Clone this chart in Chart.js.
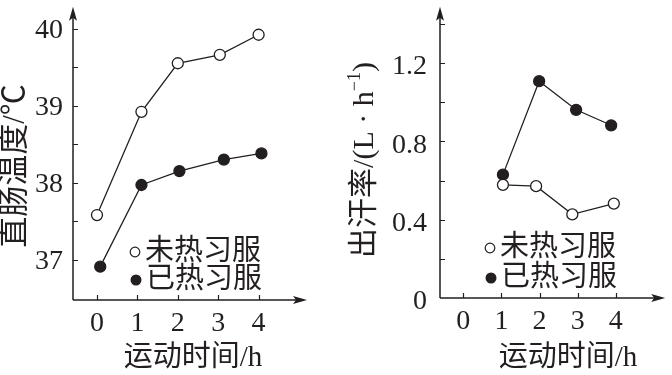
<!DOCTYPE html>
<html lang="zh">
<head>
<meta charset="utf-8">
<title>热习服 - 直肠温度与出汗率</title>
<script src="https://cdn.jsdelivr.net/npm/chart.js@4.4.1/dist/chart.umd.min.js"></script>
<style>
  html, body { margin: 0; padding: 0; background: #fff; }
  #wrap { position: relative; width: 672px; height: 375px; }
  .panel { position: absolute; top: 0; width: 336px; height: 375px; }
  #leftPanel { left: 0; }
  #rightPanel { left: 336px; }
</style>
</head>
<body>
<div id="wrap">
  <div class="panel" id="leftPanel"><canvas id="tempChart" width="336" height="375"></canvas></div>
  <div class="panel" id="rightPanel"><canvas id="sweatChart" width="336" height="375"></canvas></div>
</div>
<script>
// --- Data ---
const seriesNames = ['未热习服', '已热习服'];
const timeTicks = [0, 1, 2, 3, 4];

// left: rectal temperature (°C)
const tempTimeUnacc = [0, 1.1, 2.0, 3.04, 4.0];
const tempUnacc = [37.58, 38.92, 39.55, 39.66, 39.92];
const tempTimeAcc = [0.08, 1.1, 2.04, 3.14, 4.07];
const tempAcc = [36.91, 37.97, 38.15, 38.30, 38.38];
const tempTicks = [37, 37.5, 38, 38.5, 39, 39.5, 40];

// right: sweat rate (L/h)
const sweatTimeUnacc = [1.04, 1.91, 2.86, 3.95];
const sweatUnacc = [0.578, 0.571, 0.427, 0.482];
const sweatTimeAcc = [1.04, 1.99, 2.96, 3.88];
const sweatAcc = [0.630, 1.107, 0.961, 0.882];
const sweatTicks = [0, 0.2, 0.4, 0.6, 0.8, 1.0, 1.2, 1.4];

const INK = '#231f20';
const SERIF = '"Liberation Serif", "Noto Sans CJK SC", serif';

function toPoints(xs, ys) {
    return xs.map((x, i) => ({ x: x, y: ys[i] }));
}

// no extra room for labels that hang past the axis ends
function noScalePadding(s) {
    s.paddingTop = 0;
    s.paddingBottom = 0;
    s.paddingLeft = 0;
    s.paddingRight = 0;
}

// draws arrowed axes, inward tick marks, axis titles and the inline legend
const sketchAxes = {
    id: 'sketchAxes',
    afterDraw(chart, args, opts) {
        const ctx = chart.ctx;
        const { left, right, top, bottom } = chart.chartArea;
        const xs = chart.scales.x;
        const ys = chart.scales.y;

        ctx.save();
        ctx.strokeStyle = INK;
        ctx.fillStyle = INK;
        ctx.lineWidth = 1.5;

        // axis lines
        ctx.beginPath();
        ctx.moveTo(left, bottom);
        ctx.lineTo(left, top + 8);
        ctx.moveTo(left, bottom);
        ctx.lineTo(right - 8, bottom);
        ctx.stroke();

        // arrow heads
        ctx.beginPath();
        ctx.moveTo(left, top);
        ctx.lineTo(left + 4, top + 14);
        ctx.lineTo(left, top + 11);
        ctx.lineTo(left - 4, top + 14);
        ctx.closePath();
        ctx.fill();
        ctx.beginPath();
        ctx.moveTo(right, bottom);
        ctx.lineTo(right - 14, bottom - 4);
        ctx.lineTo(right - 11, bottom);
        ctx.lineTo(right - 14, bottom + 4);
        ctx.closePath();
        ctx.fill();

        // tick marks (pointing inward)
        ctx.lineWidth = 1.2;
        ctx.beginPath();
        ys.ticks.forEach(t => {
            const y = Math.round(ys.getPixelForValue(t.value)) + 0.5;
            if (y > bottom - 2) return;
            ctx.moveTo(left, y);
            ctx.lineTo(left + 5, y);
        });
        xs.ticks.forEach(t => {
            const x = Math.round(xs.getPixelForValue(t.value)) + 0.5;
            ctx.moveTo(x, bottom);
            ctx.lineTo(x, bottom - 5);
        });
        ctx.stroke();

        // x title
        ctx.textBaseline = 'middle';
        ctx.textAlign = 'center';
        ctx.font = '29px ' + SERIF;
        ctx.fillText(opts.xTitle, opts.xTitlePos[0], opts.xTitlePos[1]);

        // y title (rotated, possibly with a superscript part)
        ctx.save();
        ctx.translate(opts.yTitlePos[0], opts.yTitlePos[1]);
        ctx.rotate(-Math.PI / 2);
        ctx.textAlign = 'left';
        let total = 0;
        opts.yTitleParts.forEach(p => {
            ctx.font = p.size + 'px ' + SERIF;
            total += ctx.measureText(p.text).width;
        });
        let cx = -total / 2;
        opts.yTitleParts.forEach(p => {
            ctx.font = p.size + 'px ' + SERIF;
            ctx.fillText(p.text, cx, p.dy || 0);
            cx += ctx.measureText(p.text).width;
        });
        ctx.restore();

        // legend
        ctx.textAlign = 'left';
        ctx.font = '29px ' + SERIF;
        opts.legend.forEach((item, i) => {
            ctx.beginPath();
            ctx.arc(item.mx, item.y, item.r, 0, Math.PI * 2);
            if (i === 0) {
                ctx.fillStyle = '#fff';
                ctx.fill();
                ctx.lineWidth = 1.2;
                ctx.stroke();
            } else {
                ctx.fillStyle = INK;
                ctx.fill();
            }
            ctx.fillStyle = INK;
            ctx.fillText(seriesNames[i], item.tx, item.y);
        });

        ctx.restore();
    }
};

function makeChart(canvas, cfg) {
    const lineStyle = {
        showLine: true,
        borderColor: INK,
        borderWidth: 1.3,
        pointRadius: 5.5,
        pointBorderColor: INK,
        pointBorderWidth: 1.3
    };
    return new Chart(canvas, {
        type: 'scatter',
        data: {
            datasets: [
                Object.assign({ label: seriesNames[0], data: cfg.unacc, pointBackgroundColor: '#fff' }, lineStyle),
                Object.assign({ label: seriesNames[1], data: cfg.acc, pointBackgroundColor: INK }, lineStyle)
            ]
        },
        options: {
            responsive: false,
            animation: false,
            events: [],
            layout: { padding: { top: cfg.padTop, right: cfg.padRight, left: 0, bottom: 0 } },
            plugins: {
                legend: { display: false },
                tooltip: { enabled: false },
                sketchAxes: cfg.sketch
            },
            scales: {
                x: {
                    type: 'linear',
                    min: cfg.xMin,
                    max: cfg.xMax,
                    grid: { display: false, drawTicks: false },
                    border: { display: false },
                    ticks: { color: INK, font: { family: SERIF, size: 28 }, padding: 7 },
                    afterBuildTicks: s => { s.ticks = timeTicks.map(v => ({ value: v })); },
                    afterFit: s => { s.height = cfg.xHeight; noScalePadding(s); }
                },
                y: {
                    type: 'linear',
                    min: cfg.yMin,
                    max: cfg.yMax,
                    grid: { display: false, drawTicks: false },
                    border: { display: false },
                    ticks: {
                        color: INK,
                        font: { family: SERIF, size: 28 },
                        padding: cfg.yPad,
                        labelOffset: cfg.yLabelOffset,
                        callback: cfg.yLabel
                    },
                    afterBuildTicks: s => { s.ticks = cfg.yTicks.map(v => ({ value: v })); },
                    afterFit: s => { s.width = cfg.yWidth; noScalePadding(s); }
                }
            }
        },
        plugins: [sketchAxes]
    });
}

document.addEventListener('DOMContentLoaded', () => {
    // --- left panel: 直肠温度 ---
    makeChart(document.getElementById('tempChart'), {
        unacc: toPoints(tempTimeUnacc, tempUnacc),
        acc: toPoints(tempTimeAcc, tempAcc),
        xMin: -0.594, xMax: 5.198,
        yMin: 36.477, yMax: 40.283,
        yTicks: tempTicks,
        yLabel: v => (Number.isInteger(v) ? String(v) : ''),
        yWidth: 73, xHeight: 75,
        padTop: 4, padRight: 29,
        yPad: 10, yLabelOffset: 2,
        sketch: {
            xTitle: '运动时间/h',
            xTitlePos: [193, 358],
            yTitlePos: [16, 166],
            yTitleParts: [{ text: '直肠温度/℃', size: 31 }],
            legend: [
                { mx: 135, tx: 145, y: 252, r: 4.8 },
                { mx: 136, tx: 146, y: 280, r: 5.5 }
            ]
        }
    });

    // --- right panel: 出汗率 ---
    makeChart(document.getElementById('sweatChart'), {
        unacc: toPoints(sweatTimeUnacc, sweatUnacc),
        acc: toPoints(sweatTimeAcc, sweatAcc),
        xMin: -0.612, xMax: 5.298,
        yMin: 0, yMax: 1.487,
        yTicks: sweatTicks,
        yLabel: v => ([0, 0.4, 0.8, 1.2].includes(Math.round(v * 10) / 10) ? (v === 0 ? '0' : v.toFixed(1)) : ''),
        yWidth: 104, xHeight: 77,
        padTop: 5, padRight: 3,
        yPad: 13, yLabelOffset: 4,
        sketch: {
            xTitle: '运动时间/h',
            xTitlePos: [232, 358],
            yTitlePos: [29, 160],
            yTitleParts: [
                { text: '出汗率/(L · h', size: 30 },
                { text: '−1', size: 18, dy: -10 },
                { text: ')', size: 30 }
            ],
            legend: [
                { mx: 154, tx: 164, y: 248, r: 4.8 },
                { mx: 155, tx: 165, y: 278, r: 5.5 }
            ]
        }
    });
});
</script>
</body>
</html>
